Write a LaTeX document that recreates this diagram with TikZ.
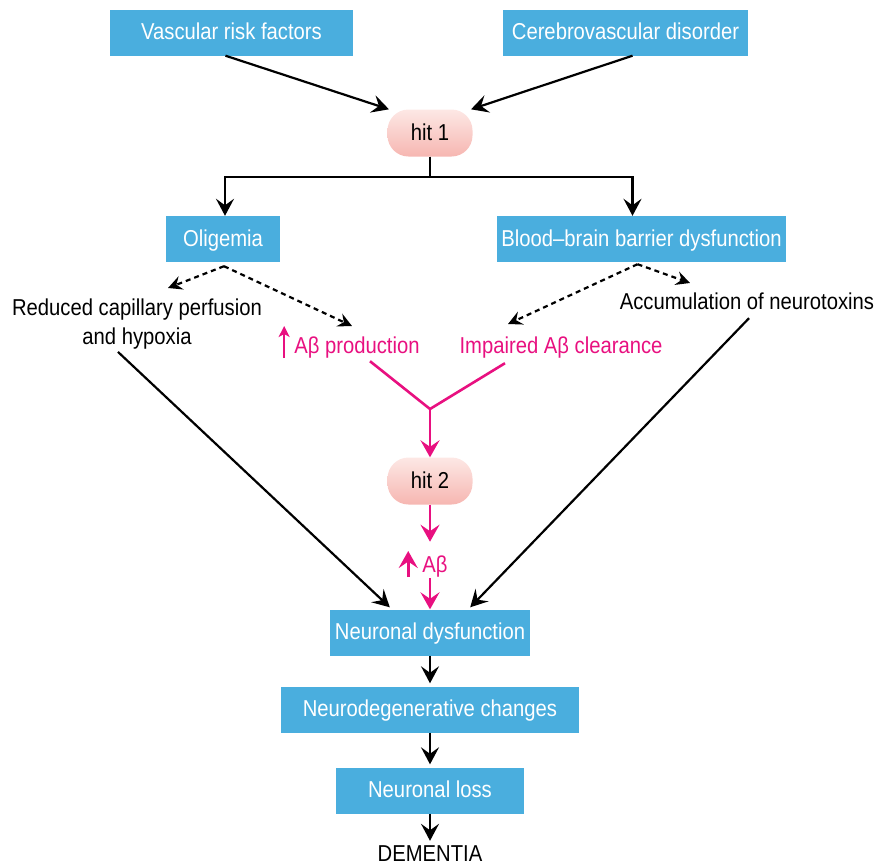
\documentclass[tikz,border=0pt]{standalone}
\usepackage{fontspec}
\setmainfont{Liberation Sans}[FakeStretch=0.88]
\usetikzlibrary{arrows.meta,calc}
\definecolor{boxblue}{RGB}{74,174,222}
\definecolor{hitpink}{RGB}{232,16,128}
\definecolor{hittop}{RGB}{253,232,229}
\definecolor{hitbot}{RGB}{246,182,177}
\begin{document}
\begin{tikzpicture}[x=1pt,y={(0pt,-1pt)},
 every node/.style={font=\fontsize{23}{29}\selectfont, inner sep=0pt},
 bluebox/.style={fill=boxblue, text=white, minimum height=46pt, text height=17pt, text depth=2.5pt},
 hitnode/.style={top color=hittop, bottom color=hitbot, rounded corners=21pt, minimum width=85pt, minimum height=47pt, text height=17pt, text depth=2.5pt},
 plain/.style={text height=16pt, text depth=4pt},
 arr/.style={line width=2.2pt, -{Stealth[length=17pt,width=18pt,inset=6.5pt]}},
 darr/.style={line width=2.2pt, dash pattern=on 5pt off 4pt, -{Stealth[length=14pt,width=14pt,inset=5pt]}},
 parr/.style={hitpink, line width=2.6pt, -{Stealth[length=17pt,width=19pt,inset=6.5pt]}},
 pline/.style={hitpink, line width=2.6pt},
 pthin/.style={hitpink, line width=2pt, -{Stealth[length=11pt,width=11pt,inset=3pt]}},
]
\useasboundingbox (0,0) rectangle (877,865);

\node[bluebox, minimum width=243pt] (vrf) at (231.5,32.5) {Vascular risk factors};
\node[bluebox, minimum width=245pt] (cbd) at (625.5,32.5) {Cerebrovascular disorder};
\node[hitnode] (hit1) at (430,133) {hit 1};
\node[bluebox, minimum width=114pt] (olig) at (223,239) {Oligemia};
\node[bluebox, minimum width=289pt] (bbb) at (641.5,239) {Blood–brain barrier dysfunction};
\node[align=center] (rcp) at (137,324.5) {Reduced capillary perfusion\\and hypoxia};
\node[plain, text=hitpink] (abp) at (357,347) {Aβ production};
\node[plain, text=hitpink] (iac) at (561,347) {Impaired Aβ clearance};
\node[plain] (aon) at (747,303) {Accumulation of neurotoxins};
\node[hitnode] (hit2) at (430,481) {hit 2};
\node[plain, text=hitpink] (ab) at (435,566) {Aβ};
\node[bluebox, minimum width=200pt] (nd) at (430,632.5) {Neuronal dysfunction};
\node[bluebox, minimum width=298pt] (ndc) at (430,709.5) {Neurodegenerative changes};
\node[bluebox, minimum width=188pt] (nl) at (430,790.5) {Neuronal loss};
\node[plain] (dem) at (430,855) {DEMENTIA};

% hit 1
\draw[arr] ([xshift=-6pt]vrf.south) -- (hit1.150);
\draw[arr] ([xshift=7pt]cbd.south) -- (hit1.30);
\draw[arr] (hit1.south) -- ++(0,20) -| ([xshift=2pt]olig.north);
\draw[arr] (hit1.south) -- ++(0,20) -| ([xshift=-9pt]bbb.north);

% dashed
\coordinate (oa) at ($(olig.south)+(1,4)$);
\coordinate (t1) at (168,288);
\coordinate (t2) at (352,326);
\draw[darr] (oa) -- (t1);
\draw[darr] (oa) -- (t2);
\coordinate (ba) at ($(bbb.south)+(-4,2)$);
\coordinate (t3) at (508,324);
\coordinate (t4) at (690,283);
\draw[darr] (ba) -- (t3);
\draw[darr] (ba) -- (t4);

% pink
\draw[pthin] ($(abp.west)+(-10,11)$) -- ($(abp.west)+(-10,-21)$);
\coordinate (pj) at (430,409);
\draw[pline] ($(abp.south)+(13,4)$) -- (pj) -- ($(iac.south)+(-56,6)$);
\draw[parr] (pj) -- (hit2.north);
\draw[parr] (hit2.south) -- ++(0,37);
\draw[parr, line width=3pt] ($(ab.west)+(-14,11)$) -- ($(ab.west)+(-14,-15)$);
\draw[parr] ($(ab.south)+(-5,2)$) -- (nd.north);

% long black
\draw[arr] ($(rcp.south)+(-19,2)$) -- ($(nd.north west)+(60,-2)$);
\draw[arr] ($(aon.south)+(2,5)$) -- ($(nd.north east)+(-60,-2)$);

% bottom chain
\draw[arr] (nd.south) -- ($(ndc.north)+(0,-3)$);
\draw[arr] (ndc.south) -- ($(nl.north)+(0,-3)$);
\draw[arr] (nl.south) -- ($(dem.north)+(0,-4)$);
\end{tikzpicture}
\end{document}
